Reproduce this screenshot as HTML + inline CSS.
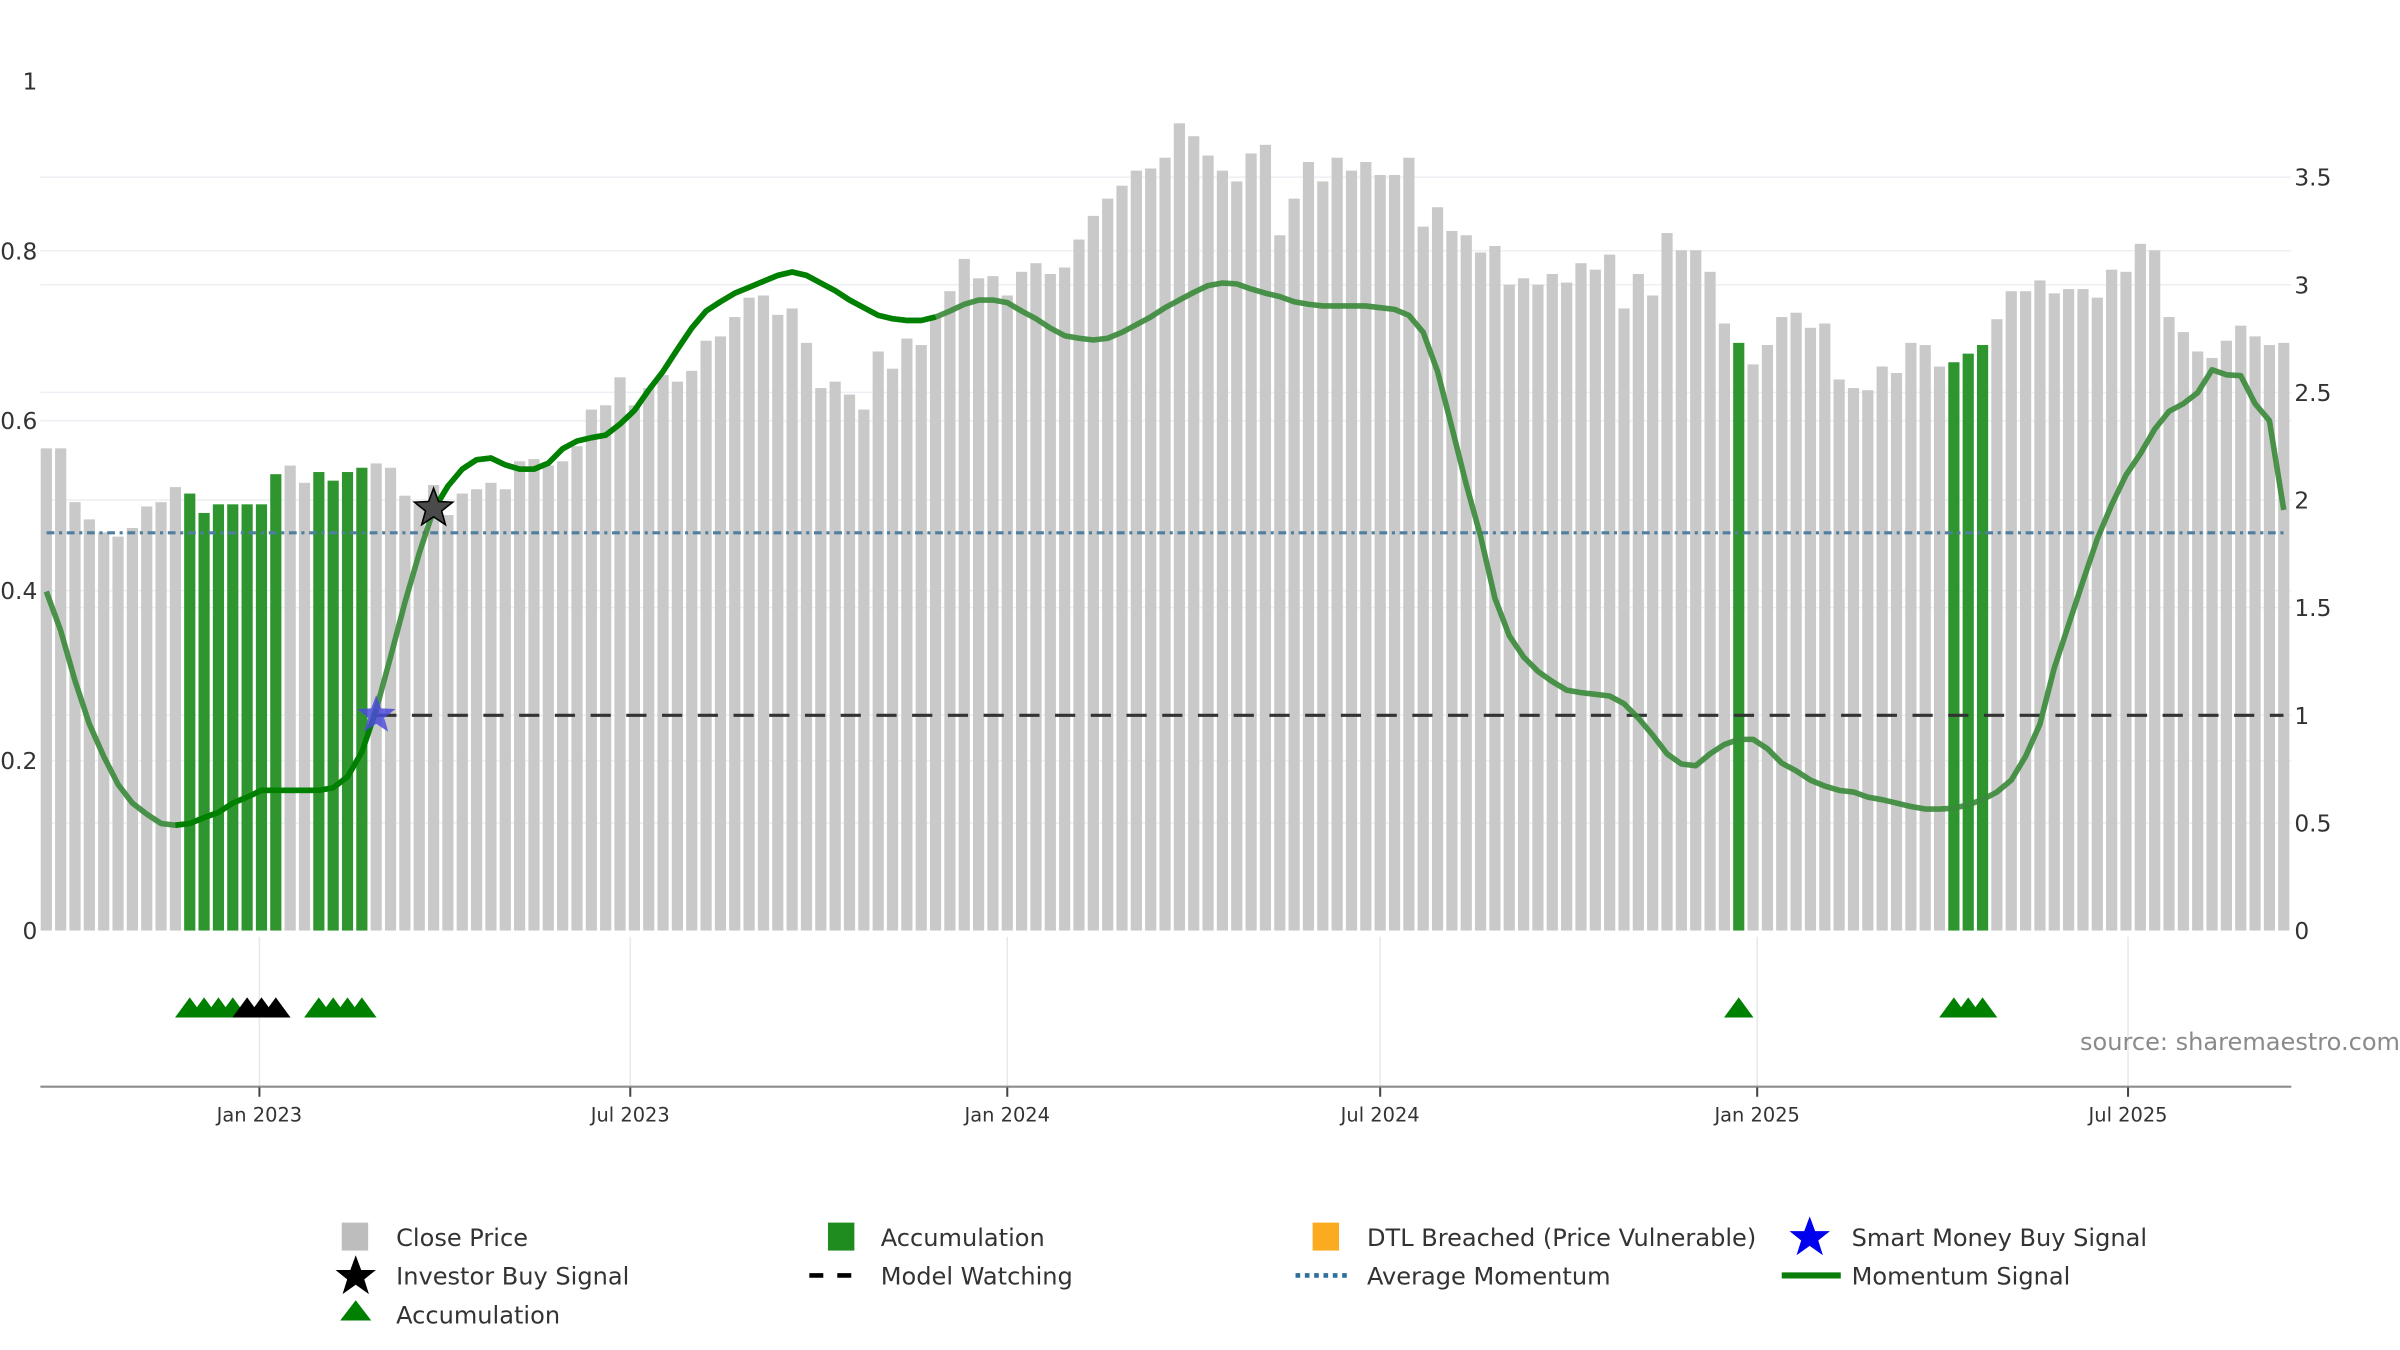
<!DOCTYPE html>
<html><head><meta charset="utf-8"><title>Momentum chart</title>
<style>
html,body{margin:0;padding:0;background:#fff;}
svg{display:block;font-family:"DejaVu Sans","Liberation Sans",sans-serif;}
</style></head>
<body>
<svg id="chart" width="2400" height="1350" viewBox="0 0 1545 869" preserveAspectRatio="none" xmlns="http://www.w3.org/2000/svg">
<g id="grid"></g>
<g id="bars"></g>
<g id="lines"></g>
<g id="marks"></g>
<g id="axes"></g>
<text x="1545" y="676" text-anchor="end" font-size="15.5" fill="#8a8a8a">source: sharemaestro.com</text>
<g id="legend" font-size="15.5" fill="#333">
  <rect x="220" y="787" width="17" height="18" fill="#bdbdbd"/>
  <text x="255" y="802">Close Price</text>
  <rect x="533" y="787" width="17" height="18" fill="#1f8c1f"/>
  <text x="567" y="802">Accumulation</text>
  <rect x="845" y="787" width="17" height="18" fill="#fbab1f"/>
  <text x="880" y="802">DTL Breached (Price Vulnerable)</text>
  <polygon points="1165,783 1168.5,792.5 1178,792.5 1170.5,798.5 1173.5,808 1165,802 1156.5,808 1159.5,798.5 1152,792.5 1161.5,792.5" fill="#0000ee"/>
  <text x="1192" y="802">Smart Money Buy Signal</text>
  <polygon points="229,808 232.5,817.5 242,817.5 234.5,823.5 237.5,833 229,827 220.5,833 223.5,823.5 216,817.5 225.5,817.5" fill="#000"/>
  <text x="255" y="827">Investor Buy Signal</text>
  <line x1="521" y1="821" x2="557" y2="821" stroke="#000" stroke-width="3" stroke-dasharray="9,9"/>
  <text x="567" y="827">Model Watching</text>
  <line x1="834" y1="821" x2="870" y2="821" stroke="#2f6f9a" stroke-width="3" stroke-dasharray="3,3"/>
  <text x="880" y="827">Average Momentum</text>
  <line x1="1147" y1="821" x2="1185" y2="821" stroke="#0a7d0a" stroke-width="4"/>
  <text x="1192" y="827">Momentum Signal</text>
  <polygon points="219,850 239,850 229,837" fill="#008000"/>
  <text x="255" y="852">Accumulation</text>
</g>
</svg>
<script>
// ---- data ----
const startDate = "2022-09-19";
const closePrice = [2.24,2.24,1.99,1.91,1.85,1.83,1.87,1.97,1.99,2.06,
2.03,1.94,1.98,1.98,1.98,1.98,2.12,2.16,2.08,2.13,
2.09,2.13,2.15,2.17,2.15,2.02,1.98,2.07,1.93,2.03,
2.05,2.08,2.05,2.18,2.19,2.16,2.18,2.25,2.42,2.44,
2.57,2.44,2.52,2.58,2.55,2.60,2.74,2.76,2.85,2.94,
2.95,2.86,2.89,2.73,2.52,2.55,2.49,2.42,2.69,2.61,
2.75,2.72,2.85,2.97,3.12,3.03,3.04,2.95,3.06,3.10,
3.05,3.08,3.21,3.32,3.40,3.46,3.53,3.54,3.59,3.75,
3.69,3.60,3.53,3.48,3.61,3.65,3.23,3.40,3.57,3.48,
3.59,3.53,3.57,3.51,3.51,3.59,3.27,3.36,3.25,3.23,
3.15,3.18,3.00,3.03,3.00,3.05,3.01,3.10,3.07,3.14,
2.89,3.05,2.95,3.24,3.16,3.16,3.06,2.82,2.73,2.63,
2.72,2.85,2.87,2.80,2.82,2.56,2.52,2.51,2.62,2.59,
2.73,2.72,2.62,2.64,2.68,2.72,2.84,2.97,2.97,3.02,
2.96,2.98,2.98,2.94,3.07,3.06,3.19,3.16,2.85,2.78,
2.69,2.66,2.74,2.81,2.76,2.72,2.73];
const momentum = [0.399,0.353,0.294,0.243,0.205,0.172,0.150,0.137,0.126,0.124,
0.126,0.133,0.139,0.150,0.157,0.165,0.165,0.165,0.165,0.165,
0.168,0.181,0.210,0.260,0.322,0.386,0.444,0.495,0.523,0.543,
0.554,0.556,0.548,0.543,0.543,0.550,0.567,0.576,0.580,0.583,
0.596,0.612,0.636,0.658,0.684,0.709,0.729,0.740,0.750,0.757,
0.764,0.771,0.775,0.771,0.762,0.753,0.742,0.733,0.724,0.720,
0.718,0.718,0.722,0.729,0.737,0.742,0.742,0.739,0.729,0.720,
0.709,0.700,0.697,0.695,0.697,0.704,0.713,0.722,0.733,0.742,
0.751,0.759,0.762,0.761,0.755,0.750,0.746,0.740,0.737,0.735,
0.735,0.735,0.735,0.733,0.731,0.724,0.704,0.658,0.592,0.525,
0.464,0.391,0.347,0.322,0.305,0.293,0.283,0.280,0.278,0.276,
0.267,0.250,0.230,0.208,0.196,0.194,0.208,0.219,0.225,0.225,
0.214,0.197,0.188,0.177,0.170,0.165,0.163,0.157,0.154,0.150,
0.146,0.143,0.143,0.144,0.148,0.154,0.163,0.177,0.205,0.243,
0.309,0.360,0.411,0.461,0.501,0.536,0.561,0.590,0.611,0.620,
0.633,0.660,0.654,0.653,0.620,0.600,0.495];
const accumulationWeeks = [11,12,13,14,15,16,17,20,21,22,23,119,134,135,136];
const greenTriangleWeeks = [11,12,13,14,20,21,22,23,119,134,135,136];
const blackTriangleWeeks = [15,16,17];
const strongSegments = [[10,24],[28,63]];
const averageMomentum = 0.468;
const modelWatchingLevel = 1.0;
const modelWatchingStart = 24;
const smartMoneyWeek = 24;
const investorBuyWeek = 28;
const leftTicks = [0,0.2,0.4,0.6,0.8,1];
const rightTicks = [0,0.5,1,1.5,2,2.5,3,3.5];
const xTickLabels = ["Jan 2023","Jul 2023","Jan 2024","Jul 2024","Jan 2025","Jul 2025"];
const xTickDates = ["2023-01-01","2023-07-01","2024-01-01","2024-07-01","2025-01-01","2025-07-01"];

// ---- scales ----
const NS="http://www.w3.org/2000/svg";
const DAY=86400000;
const ref=Date.UTC(2023,0,1);
function dnum(s){const p=s.split("-");return Date.UTC(+p[0],+p[1]-1,+p[2]);}
function xDate(t){return 167+(t-ref)/DAY*1.319;}
function xWeek(i){return xDate(dnum(startDate)+(i-1)*7*DAY);}
function yLeft(v){return 599-v*547;}
function yRight(v){return 599-v*138.57;}
function el(tag,attrs,parent){const e=document.createElementNS(NS,tag);for(const k in attrs)e.setAttribute(k,attrs[k]);parent.appendChild(e);return e;}
const G=id=>document.getElementById(id);
const grid=G("grid"),bars=G("bars"),lines=G("lines"),marks=G("marks"),axes=G("axes");
const X0=26,X1=1475;

// gridlines
leftTicks.slice(1,5).forEach(v=>{const l=el("line",{x1:X0,x2:X1,y1:yLeft(v),y2:yLeft(v),stroke:"#eceff3","stroke-width":1},grid);

});
rightTicks.slice(1).forEach(v=>{const l=el("line",{x1:X0,x2:X1,y1:yRight(v),y2:yRight(v),stroke:"#eceff3","stroke-width":1},grid);

});
xTickDates.forEach(d=>{const x=xDate(dnum(d));const l=el("line",{x1:x,x2:x,y1:603,y2:699,stroke:"#e6e9ee","stroke-width":1},grid);

});

// bars
closePrice.forEach((v,k)=>{const i=k+1;const acc=accumulationWeeks.includes(i);const x=xWeek(i);
const r=el("rect",{x:x-3.6,y:yRight(v),width:7.2,height:599-yRight(v),fill:acc?"#2f962f":"#c9c9c9"},bars);

});

// average momentum
const avg=el("line",{x1:30,x2:1470,y1:yLeft(averageMomentum),y2:yLeft(averageMomentum),stroke:"#4f7f9f","stroke-width":2,"stroke-dasharray":"5,3,2,3"},lines);


// model watching
const mw=el("line",{x1:xWeek(modelWatchingStart),x2:1470,y1:yRight(modelWatchingLevel),y2:yRight(modelWatchingLevel),stroke:"#333","stroke-width":2,"stroke-dasharray":"13,10"},lines);



// momentum line
function pathFor(a,b){let d="";for(let i=a;i<=b;i++){d+=(i===a?"M":"L")+xWeek(i).toFixed(2)+","+yLeft(momentum[i-1]).toFixed(2);}return d;}
const ml=el("path",{d:pathFor(1,momentum.length),fill:"none",stroke:"#3a8a3a","stroke-width":3.6,"stroke-linejoin":"round","stroke-opacity":0.9},lines);


strongSegments.forEach(s=>{const p=el("path",{d:pathFor(s[0],s[1]),fill:"none",stroke:"#008000","stroke-width":3.6,"stroke-linejoin":"round"},lines);

});

// stars
function starPts(cx,cy,R){const r=R*0.42;let p=[];for(let k=0;k<10;k++){const a=-Math.PI/2+k*Math.PI/5;const rr=k%2?r:R;p.push((cx+rr*Math.cos(a)).toFixed(2)+","+(cy+rr*Math.sin(a)).toFixed(2));}return p.join(" ");}
const sm=el("polygon",{points:starPts(xWeek(smartMoneyWeek),yRight(modelWatchingLevel),13),fill:"#4b4bd8","fill-opacity":0.85},marks);


const ib=el("polygon",{points:starPts(xWeek(investorBuyWeek),yLeft(momentum[investorBuyWeek-1])-1,13),fill:"#4a4a4a",stroke:"#000","stroke-width":1},marks);



// triangles
function tri(i,color,name){const x=xWeek(i);const t=el("polygon",{points:(x-9.5)+",655 "+(x+9.5)+",655 "+x+",642",fill:color},marks);

}
greenTriangleWeeks.forEach(i=>tri(i,"#008000","accumulation-triangle"));
blackTriangleWeeks.forEach(i=>tri(i,"#000000","investor-triangle"));

// axes
const xl=el("line",{x1:X0,x2:X1,y1:699.5,y2:699.5,stroke:"#8c8c8c","stroke-width":1.3},axes);


xTickDates.forEach((d,k)=>{const x=xDate(dnum(d));
const tk=el("line",{x1:x,x2:x,y1:700,y2:706,stroke:"#444","stroke-width":1.3},axes);


const t=el("text",{x:x,y:722,"text-anchor":"middle","font-size":12.5,fill:"#333"},axes);t.textContent=xTickLabels[k];

});
leftTicks.forEach(v=>{const t=el("text",{x:24,y:yLeft(v)+5.5,"text-anchor":"end","font-size":15,fill:"#333"},axes);t.textContent=String(v);

});
rightTicks.forEach(v=>{const t=el("text",{x:1477,y:yRight(v)+5.5,"text-anchor":"start","font-size":15,fill:"#333"},axes);t.textContent=String(v);

});
</script>
</body></html>
